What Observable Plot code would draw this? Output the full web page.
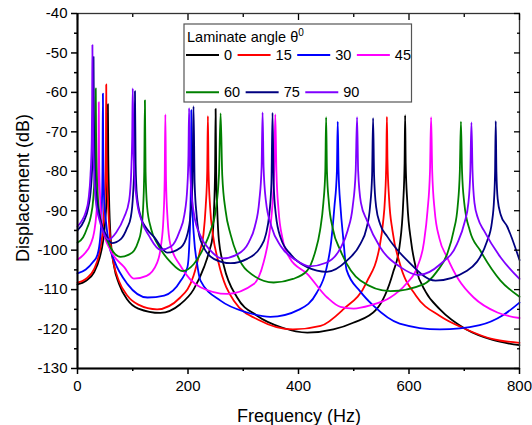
<!DOCTYPE html>
<html><head><meta charset="utf-8">
<script src="https://cdn.jsdelivr.net/npm/d3@7"></script>
<script src="https://cdn.jsdelivr.net/npm/@observablehq/plot@0.6"></script>
<style>body{margin:0;background:#fff} svg{display:block}</style>
</head><body><div id="chart"></div>
<script>
const angles = ["0","15","30","45","60","75","90"];
const colors = ["#000000","#ff0000","#0000ff","#ff00ff","#008000","#000080","#7f00ff"];
const xMajor = [0,200,400,600,800];
const xMinor = [100,300,500,700];
const yMajor = [-130,-120,-110,-100,-90,-80,-70,-60,-50,-40];
const yMinor = [-125,-115,-105,-95,-85,-75,-65,-55,-45];

const s0 = [[0,-108.7],[15,-107.8],[30,-105.6],[40,-102],[46,-98],[50,-93],[53,-85],[54.3,-76],[55,-63],[55.7,-76],[57,-86],[60,-97],[66,-104],[75,-108.5],[90,-112.5],[110,-114.8],[150,-115.9],[186,-113.7],[210,-110],[229,-104.3],[240,-99.5],[244,-97],[247,-90],[249,-80],[250,-64.2],[251,-80],[253,-90],[256,-97.6],[265,-104],[289,-112],[325,-116.6],[370,-119.6],[416,-120.9],[463,-120.1],[499,-118.4],[541,-115],[571,-105.7],[583,-98.9],[589.5,-88],[592,-78],[593,-65.8],[594,-78],[597,-88],[604,-98],[613,-104.8],[630,-110.5],[656,-115],[704,-120.1],[750,-122.7],[800,-124.1]];
const s15 = [[0,-108.2],[15,-107.3],[30,-104.8],[40,-100.5],[45,-96],[48.5,-89],[50.8,-80],[51.5,-72],[52,-58],[52.5,-72],[53.3,-80],[55.5,-89],[59,-97],[65,-103],[75,-107.8],[90,-111.5],[110,-113.8],[144,-115],[186,-112],[210,-106.5],[222,-100],[228,-96],[232,-89],[234.8,-80],[236,-66],[237.2,-80],[240,-89],[245,-96],[255,-103],[283,-112.8],[331,-117.9],[390,-120.1],[440,-119.2],[481,-115],[523,-108.2],[547,-98.9],[553,-93],[556.5,-87],[559,-77],[560,-66.2],[561,-77],[564,-87],[570,-95],[583,-103.2],[613,-111.6],[656,-116.7],[704,-120.1],[750,-122.5],[800,-123.5]];
const s30 = [[0,-105.9],[15,-104.9],[28,-103],[36,-101.2],[41,-97],[43.8,-90],[45.2,-80],[46,-60.3],[46.8,-80],[48.5,-88],[51.3,-92.5],[57,-98.5],[66.4,-102.6],[90.5,-108.6],[126.7,-112],[156.9,-111.5],[187,-107.7],[199,-104.3],[202.5,-98],[204.5,-89],[205.5,-79],[206,-64.5],[206.5,-79],[208,-89],[211,-97],[216,-103],[222.6,-107.7],[258.8,-112.8],[307,-115.8],[349,-116.9],[402,-115],[433,-110.8],[450,-105],[459,-98],[465,-89],[469.5,-80],[471,-67.4],[472.5,-80],[476,-89],[481,-97],[487,-105],[512,-110.5],[535,-114],[583,-118.6],[656,-120.1],[728,-119],[770,-116.5],[800,-113.3]];
const s45 = [[0,-102.4],[12,-101],[24,-98.4],[30,-95.5],[34,-91],[36.8,-84],[38,-76],[38.5,-62.5],[39,-76],[40.5,-85],[45,-94.2],[60,-100.1],[84.5,-104.3],[102,-107.2],[125,-106.5],[144,-103.2],[151,-99],[155.5,-92],[157.8,-82],[159,-65.6],[160.2,-82],[163,-92],[168,-98.5],[186,-103.9],[222.6,-109.4],[271,-111.1],[319,-108.6],[337,-103],[346,-97],[352,-90],[356,-80],[358,-65.6],[360,-80],[364,-90],[371,-97],[384,-102],[415.7,-106],[452,-112],[476,-114.4],[500,-114.8],[530,-114],[566,-112],[595,-108.5],[615,-104.3],[627,-98],[633.5,-90],[638,-80],[640,-66.3],[642,-80],[646.5,-90],[655,-97],[669,-101.8],[690,-107.5],[717,-112],[760,-115.8],[800,-117.2]];
const s60 = [[0,-98.1],[10,-96.8],[18,-94.2],[24,-91.5],[28.5,-87],[31.5,-79],[32.4,-70],[33,-59],[33.6,-70],[34.5,-79],[37,-87],[42,-92.5],[54,-97.6],[65,-100.5],[78,-101.7],[92,-101.2],[102.6,-100.1],[110,-97.8],[114.6,-95.4],[118.5,-90],[120.8,-80],[122,-62],[123.2,-80],[126,-89],[133,-94.5],[144.8,-98.4],[168.9,-103.1],[190,-105.3],[210.6,-103.5],[228.6,-99.3],[241,-95],[250,-90],[256,-81],[259,-65.3],[262,-81],[268,-90],[277,-96],[290,-101.5],[307,-105.2],[355,-108.2],[390,-107.3],[415.7,-105.2],[430,-100.5],[439,-95],[445,-88],[448.5,-80],[450,-66.3],[451.5,-80],[455,-88],[462,-94.5],[476,-100.1],[512,-107.7],[566,-110.4],[627,-108.6],[650,-105.5],[669,-101],[681,-95],[688,-89],[692,-80],[694,-67.4],[696,-80],[700,-88],[710,-95],[729,-100.1],[765.6,-107.7],[800,-111.8]];
const s75 = [[0,-95],[12,-92.5],[19,-89.5],[24.5,-84],[27.5,-75],[28.4,-65],[29,-51],[29.6,-65],[30.5,-75],[33,-84],[38,-90],[45,-94],[51,-95.9],[62,-98.2],[78.4,-97.2],[90,-94.3],[96.5,-91.6],[100.5,-86],[102.8,-78],[104,-59.7],[105.2,-78],[107.5,-86],[114.6,-91.6],[125,-94.5],[138.8,-96.7],[162,-100.6],[187,-99.3],[199,-95.9],[204.5,-91],[208,-83],[210,-63.5],[212,-83],[215.5,-91],[222.6,-97.5],[246.7,-102.2],[277,-103.3],[307,-102.2],[331,-99.3],[341,-96],[347,-91],[351,-83],[353,-65.2],[355,-83],[359,-91],[368,-97],[385.5,-101],[415.7,-104.3],[451,-105.5],[488,-102.6],[512,-98.4],[523,-94.5],[529.5,-89],[533.2,-81],[535,-66.5],[536.8,-81],[540.5,-89],[548,-93.5],[560.5,-96.5],[596.7,-102.6],[648,-107.7],[705,-105.2],[741.6,-97.6],[750,-93],[754,-87],[755.8,-80],[757,-67.3],[758.2,-80],[760.5,-87],[766,-91],[777.7,-94],[800,-102.5]];
const s90 = [[0,-94],[8,-92.5],[14.5,-90.5],[20,-87],[23.5,-81],[25.8,-72],[26.5,-62],[27,-48],[27.5,-62],[28.3,-72],[30,-80],[33,-87.4],[40,-92.5],[48,-95.9],[56,-97.3],[70,-95.5],[84.5,-91.6],[93.5,-87.4],[97.3,-80],[99,-71],[100,-59],[101,-71],[102.8,-80],[107,-87],[116,-92.5],[130,-96.5],[150,-99.9],[170,-99],[184,-95.5],[193.5,-91],[198.8,-84],[200.8,-76],[202,-64],[203.2,-76],[205.5,-84],[211,-91],[223,-96.5],[240,-100],[262,-102.1],[290,-101],[310,-98],[321,-94],[329,-87.5],[333.2,-79],[335,-65.1],[336.8,-79],[341,-87.5],[351,-94],[368,-99],[395,-102.5],[420,-104.1],[450,-103.2],[476,-99.5],[489,-95],[498,-89],[503.5,-80],[506,-66.3],[508,-80],[513,-88],[524,-92.5],[548,-99.3],[584.6,-104.3],[617,-106.3],[657,-103.5],[687,-98.4],[700.5,-93],[707.5,-88],[711,-80],[713,-67.6],[715,-80],[718.5,-88],[725,-92],[735.5,-95],[765.6,-101.8],[800,-107.3]];

const seriesData = [s0, s15, s30, s45, s60, s75, s90];
const table = seriesData.flatMap((s, i) => s.map(([f, v]) => ({angle: angles[i], f, v})));

const FONT = "'Liberation Sans', Arial, Helvetica, sans-serif";
const fmt = d => String(d);

const chart = Plot.plot({
  width: 532, height: 425,
  marginTop: 13, marginBottom: 57, marginLeft: 77, marginRight: 13,
  style: {fontFamily: FONT, background: "#fff", color: "#000"},
  x: {domain: [0, 800]},
  y: {domain: [-130, -40]},
  color: {domain: angles, range: colors},
  marks: [
    Plot.line(table, {x: "f", y: "v", z: "angle", stroke: "angle", strokeWidth: 1.8, curve: "monotone-x"}),
    Plot.frame({stroke: "#333", strokeWidth: 1.3}),
    Plot.ruleX([0], {stroke: "#000", strokeWidth: 2}),
    Plot.ruleY([-130], {stroke: "#000", strokeWidth: 2}),
    Plot.axisX({anchor: "bottom", ticks: xMajor, tickSize: 6, tickPadding: 6, fontSize: 15, tickFormat: fmt, label: null, strokeWidth: 1.5}),
    Plot.axisX({anchor: "bottom", ticks: xMinor, tickSize: 3, fill: "none", label: null, strokeWidth: 1.5}),
    Plot.axisX({anchor: "top", ticks: xMajor, tickSize: 6, dy: 6, fill: "none", label: null, strokeWidth: 1.3}),
    Plot.axisX({anchor: "top", ticks: xMinor, tickSize: 3, dy: 3, fill: "none", label: null, strokeWidth: 1.3}),
    Plot.axisY({anchor: "left", ticks: yMajor, tickSize: 6, tickPadding: 4, fontSize: 15, tickFormat: fmt, label: null, strokeWidth: 1.5}),
    Plot.axisY({anchor: "left", ticks: yMinor, tickSize: 3, fill: "none", label: null, strokeWidth: 1.5}),
    Plot.axisY({anchor: "right", ticks: yMajor, tickSize: 6, dx: -6, fill: "none", label: null, strokeWidth: 1.3}),
    Plot.axisY({anchor: "right", ticks: yMinor, tickSize: 3, dx: -3, fill: "none", label: null, strokeWidth: 1.3})
  ]
});
document.getElementById("chart").appendChild(chart);

const svg = d3.select(chart);
svg.append("text").attr("x", 299).attr("y", 421.5).attr("text-anchor", "middle")
  .attr("font-size", 18).attr("font-family", FONT).attr("fill", "#000").text("Frequency (Hz)");
svg.append("text").attr("transform", "translate(28.5,188) rotate(-90)").attr("text-anchor", "middle")
  .attr("font-size", 18).attr("font-family", FONT).attr("fill", "#000").text("Displacement (dB)");

// Legend
const lg = svg.append("g").attr("font-family", FONT).attr("font-size", 14.5)
  .attr("fill", "#000").attr("text-anchor", "start");
lg.append("rect").attr("x", 184).attr("y", 24).attr("width", 227.5).attr("height", 78)
  .attr("fill", "#fff").attr("stroke", "#555").attr("stroke-width", 1.2);
const title = lg.append("text").attr("x", 187).attr("y", 42.3);
title.append("tspan").text("Laminate angle θ");
title.append("tspan").attr("font-size", 10).attr("dy", -6).text("0");
const rows = [[0,1,2,3],[4,5,6]];
const rowY = [55, 92.3];
rows.forEach((row, r) => {
  let x = 186;
  row.forEach(i => {
    lg.append("line").attr("x1", x).attr("x2", x + 33).attr("y1", rowY[r]).attr("y2", rowY[r])
      .attr("stroke", colors[i]).attr("stroke-width", 2);
    const t = lg.append("text").attr("x", x + 38).attr("y", rowY[r] + 5).text(angles[i]);
    x = x + 38 + t.node().getComputedTextLength() + 5.5;
  });
});
</script></body></html>
